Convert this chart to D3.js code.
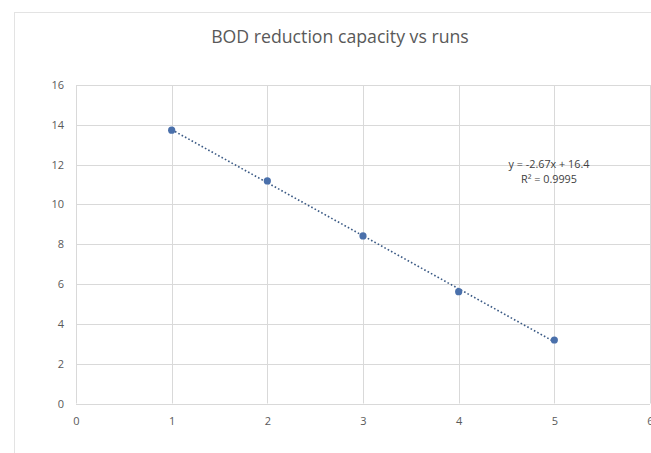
<!DOCTYPE html>
<html><head><meta charset="utf-8">
<script src="https://cdn.jsdelivr.net/npm/d3@7"></script>
<style>html,body{margin:0;padding:0;background:#fff;}svg{display:block;}</style>
</head><body>
<svg id="c" width="651" height="453"></svg>
<script>
const runs = [1, 2, 3, 4, 5];
const bod = [13.73, 11.18, 8.42, 5.62, 3.19];
const xTicks = [0, 1, 2, 3, 4, 5, 6];
const yTicks = [0, 2, 4, 6, 8, 10, 12, 14, 16];
const title = "BOD reduction capacity vs runs";
const eqText = "y = -2.67x + 16.4";
const r2Text = "R² = 0.9995";

const svg = d3.select("#c");
const font = "'Open Sans', 'Liberation Sans', sans-serif";
const textCol = "#595959";

// chart border
svg.append("rect").attr("x", 14.5).attr("y", 12.5).attr("width", 700).attr("height", 500)
  .attr("fill", "none").attr("stroke", "#e3e3e3").attr("stroke-width", 1);

const x = d3.scaleLinear().domain([0, 6]).range([76, 650]);
const y = d3.scaleLinear().domain([0, 16]).range([403.5, 85]);

// gridlines
const g = svg.append("g");
g.selectAll("line.h").data(yTicks).join("line")
  .attr("x1", x(0)).attr("x2", x(6))
  .attr("y1", d => Math.round(y(d)) + 0.5).attr("y2", d => Math.round(y(d)) + 0.5)
  .attr("stroke", "#d9d9d9").attr("stroke-width", 1);
g.selectAll("line.v").data(xTicks).join("line")
  .attr("y1", y(0)).attr("y2", y(16))
  .attr("x1", d => Math.round(x(d)) + 0.5).attr("x2", d => Math.round(x(d)) + 0.5)
  .attr("stroke", "#d9d9d9").attr("stroke-width", 1);

// axes labels via d3 axes
const xAxis = svg.append("g").attr("transform", `translate(0,${y(0)})`)
  .call(d3.axisBottom(x).tickValues(xTicks).tickSize(0).tickPadding(14).tickFormat(d3.format("d")));
const yAxis = svg.append("g").attr("transform", `translate(${x(0)},0)`)
  .call(d3.axisLeft(y).tickValues(yTicks).tickSize(0).tickPadding(12).tickFormat(d3.format("d")));
[xAxis, yAxis].forEach(a => {
  a.select(".domain").remove();
  a.selectAll("text").attr("fill", textCol).style("font-family", font).style("font-size", "11px");
});

// trendline (least squares)
const mx = d3.mean(runs), my = d3.mean(bod);
const slope = d3.sum(runs.map((v, i) => (v - mx) * (bod[i] - my))) / d3.sum(runs.map(v => (v - mx) ** 2));
const icpt = my - slope * mx;
const x0 = d3.min(runs), x1 = d3.max(runs);
svg.append("line")
  .attr("x1", x(x0)).attr("y1", y(slope * x0 + icpt))
  .attr("x2", x(x1)).attr("y2", y(slope * x1 + icpt))
  .attr("stroke", "#3b5a85").attr("stroke-width", 1.6)
  .attr("stroke-dasharray", "1.6 2.2").attr("stroke-linecap", "butt");

// points
svg.selectAll("circle.pt").data(runs).join("circle")
  .attr("cx", d => x(d)).attr("cy", (d, i) => y(bod[i])).attr("r", 3.6)
  .attr("fill", "#4a70ab");

// title
svg.append("text").attr("x", 340).attr("y", 43).attr("text-anchor", "middle")
  .attr("fill", textCol).style("font-family", font).style("font-size", "17.7px").text(title);

// equation
svg.append("text").attr("x", 549).attr("y", 168).attr("text-anchor", "middle")
  .attr("fill", "#404040").style("font-family", font).style("font-size", "10.8px").text(eqText);
svg.append("text").attr("x", 549).attr("y", 183).attr("text-anchor", "middle")
  .attr("fill", "#404040").style("font-family", font).style("font-size", "10.8px").text(r2Text);
</script>
</body></html>
